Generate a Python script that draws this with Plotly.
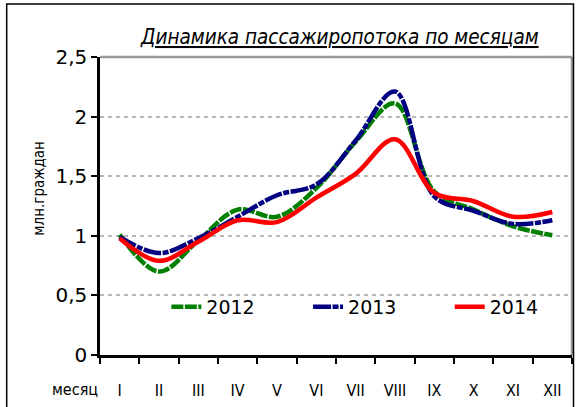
import plotly.graph_objects as go

months = ["I", "II", "III", "IV", "V", "VI", "VII", "VIII", "IX", "X", "XI", "XII"]
y2012 = [1.01, 0.70, 0.96, 1.22, 1.16, 1.40, 1.79, 2.11, 1.37, 1.22, 1.08, 1.005]
y2013 = [0.99, 0.855, 0.98, 1.16, 1.34, 1.43, 1.80, 2.21, 1.33, 1.21, 1.10, 1.13]
y2014 = [0.98, 0.79, 0.95, 1.13, 1.115, 1.32, 1.52, 1.81, 1.36, 1.29, 1.16, 1.20]
y_ticks = [0, 0.5, 1, 1.5, 2, 2.5]
y_tick_text = ["0", "0,5", "1", "1,5", "2", "2,5"]

W, H = 576, 407
L, R, T, B = 99.5, 3.5, 57, 52
pw, ph = W - L - R, H - T - B

def px(x):
    return (x - L) / pw

def py(y):
    return (H - B - y) / ph

fig = go.Figure()
fig.add_trace(go.Scatter(x=months, y=y2012, name="2012", mode="lines", legend="legend",
                         line=dict(color="#008000", width=4.5, shape="spline",
                                   smoothing=1, dash="12px,1.5px")))
fig.add_trace(go.Scatter(x=months, y=y2013, name="2013", mode="lines", legend="legend2",
                         line=dict(color="#000080", width=4.5, shape="spline",
                                   smoothing=1, dash="18px,1.5px,6px,1.5px")))
fig.add_trace(go.Scatter(x=months, y=y2014, name="2014", mode="lines", legend="legend3",
                         line=dict(color="#ff0000", width=4.5, shape="spline",
                                   smoothing=1)))

legend_font = dict(family="DejaVu Sans", size=19, color="black")

def leg(xpix):
    return dict(orientation="h", x=px(xpix), xanchor="left", y=py(307),
                yanchor="middle", bgcolor="rgba(0,0,0,0)", font=legend_font,
                itemwidth=30, borderwidth=0)

fig.update_layout(
    width=W, height=H,
    margin=dict(l=L, r=R, t=T, b=B, pad=0),
    paper_bgcolor="white", plot_bgcolor="white",
    showlegend=True,
    legend=leg(166), legend2=leg(308), legend3=leg(450),
    xaxis=dict(type="category", range=[-0.5, 11.5], tickson="boundaries",
               ticks="outside", ticklen=6, tickwidth=2, tickcolor="black",
               showline=True, linecolor="black", linewidth=2.5,
               showgrid=False, zeroline=False, ticklabelstandoff=19,
               tickfont=dict(family="Liberation Sans Narrow, DejaVu Sans Condensed, Liberation Sans",
                             size=16, color="black")),
    yaxis=dict(range=[0, 2.5], tickmode="array", tickvals=y_ticks,
               ticktext=y_tick_text, ticks="outside", ticklen=6, tickwidth=2,
               tickcolor="black", showline=True, linecolor="black",
               linewidth=2.5, showgrid=True, gridcolor="#b8b8b8",
               gridwidth=2, griddash="4px,4px", zeroline=False,
               tickfont=dict(family="DejaVu Sans", size=20, color="black")),
)

# plot-area border (top and right, grey)
fig.add_shape(type="line", xref="paper", yref="paper", x0=0, x1=1, y0=1, y1=1,
              line=dict(color="#999999", width=2.5))
fig.add_shape(type="line", xref="paper", yref="paper", x0=1, x1=1, y0=0, y1=1,
              line=dict(color="#999999", width=2.5))
# outer chart frame
fig.add_shape(type="rect", xref="paper", yref="paper",
              x0=px(6), x1=px(574), y0=py(412), y1=py(4),
              line=dict(color="black", width=1.5))

fig.add_annotation(text="<i><u>Динамика пассажиропотока по месяцам</u></i>",
                   xref="paper", yref="paper", x=px(340), y=py(37),
                   xanchor="center", yanchor="middle", showarrow=False,
                   font=dict(family="DejaVu Sans Condensed, DejaVu Sans", size=20.5, color="black"))
fig.add_annotation(text="млн.граждан", xref="paper", yref="paper",
                   x=px(38), y=py(189), textangle=-90, xanchor="center",
                   yanchor="middle", showarrow=False,
                   font=dict(family="DejaVu Sans Condensed, DejaVu Sans", size=15, color="black"))
fig.add_annotation(text="месяц", xref="paper", yref="paper",
                   x=px(74), y=py(389), xanchor="center", yanchor="middle",
                   showarrow=False,
                   font=dict(family="Liberation Sans Narrow, DejaVu Sans Condensed, Liberation Sans",
                             size=16, color="black"))

fig.write_html("out.html", config={"displayModeBar": False},
               post_script="document.body.style.margin='0px';document.body.style.overflow='hidden';")
